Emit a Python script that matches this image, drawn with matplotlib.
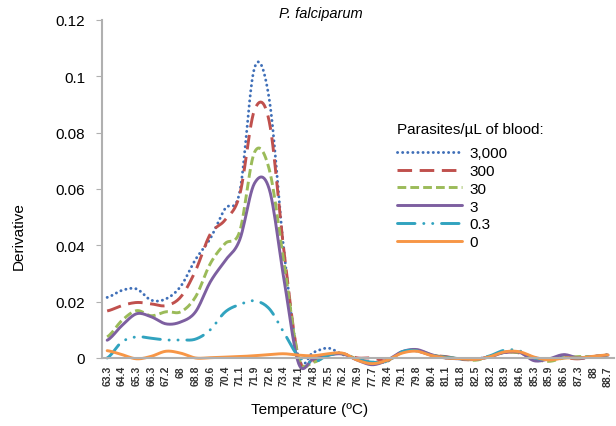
import numpy as np
import matplotlib
matplotlib.use("Agg")
import matplotlib.pyplot as plt

plt.rcParams['font.family'] = ['Liberation Sans', 'DejaVu Sans']

# melt temperature categories (deg C), one label per point
temps = ['63.3', '64.4', '65.3', '66.3', '67.2', '68', '68.8', '69.6', '70.4', '71.1',
         '71.9', '72.6', '73.4', '74.1', '74.8', '75.5', '76.2', '76.9', '77.7', '78.4',
         '79.1', '79.8', '80.4', '81.1', '81.8', '82.5', '83.2', '83.9', '84.6', '85.3',
         '85.9', '86.6', '87.3', '88', '88.7']

# derivative values, one list per parasite density
p3000 = [0.0215, 0.024, 0.0245, 0.0205, 0.021, 0.0255, 0.035, 0.0424, 0.053, 0.059,
         0.103, 0.092, 0.038, 0.0, 0.002, 0.0035, 0.0012, -0.0005, -0.0015, -0.0012,
         0.002, 0.0025, 0.001, 0.0, -0.0003, -0.0003, 0.0005, 0.002, 0.002, 0.0,
         -0.0005, 0.0005, 0.0, 0.0005, 0.0012]
p300 = [0.0167, 0.0186, 0.0197, 0.0192, 0.0186, 0.0217, 0.031, 0.044, 0.049, 0.058,
        0.088, 0.084, 0.038, 0.0, -0.001, 0.0012, 0.0015, 0.0, 0.0, -0.001,
        0.002, 0.0025, 0.001, 0.0005, -0.0005, -0.0005, 0.0005, 0.002, 0.0018, 0.0,
        -0.0005, 0.0, -0.0003, 0.0005, 0.001]
p30 = [0.0075, 0.0133, 0.0168, 0.015, 0.0164, 0.0164, 0.0217, 0.0335, 0.0406, 0.045,
       0.073, 0.067, 0.034, 0.0, -0.0015, 0.001, 0.0015, -0.0005, -0.002, -0.001,
       0.002, 0.0028, 0.0012, 0.0002, -0.0003, -0.0008, 0.0005, 0.002, 0.0018, -0.0003,
       -0.0012, 0.0, 0.0005, 0.0005, 0.001]
p3 = [0.0063, 0.0115, 0.0157, 0.0146, 0.0121, 0.0128, 0.0164, 0.027, 0.0345, 0.042,
      0.062, 0.060, 0.028, -0.002, -0.0003, 0.001, 0.0014, -0.0008, -0.0024, -0.0008,
      0.0022, 0.003, 0.0012, 0.0, -0.0003, -0.0005, 0.0005, 0.002, 0.002, -0.001,
      -0.0003, 0.0012, 0.0, 0.0005, 0.001]
p03 = [0.0, 0.0057, 0.0075, 0.007, 0.0064, 0.0064, 0.0067, 0.010, 0.0163, 0.019,
       0.0203, 0.0175, 0.009, 0.0005, -0.0015, 0.001, 0.0015, -0.0005, -0.0015, -0.0012,
       0.0022, 0.0026, 0.001, 0.0003, -0.0003, -0.0005, 0.0008, 0.0028, 0.0025, 0.0,
       -0.0005, 0.0002, 0.0, 0.0006, 0.001]
p0 = [0.0026, 0.0012, -0.0003, 0.0006, 0.0024, 0.0017, 0.0, 0.0001, 0.0003, 0.0005,
      0.0008, 0.0012, 0.0015, 0.001, 0.0008, 0.0015, 0.0017, -0.0008, -0.002, -0.0008,
      0.0017, 0.0024, 0.0009, 0.0, -0.0002, -0.0005, 0.0005, 0.0022, 0.0022, 0.0003,
      -0.0007, 0.0, 0.0, 0.0006, 0.0011]

labels = ['3,000', '300', '30', '3', '0.3', '0']
colors = ['#3f6fb8', '#c0504d', '#9bbb59', '#7d5fa0', '#31a3bf', '#f79646']
styles = [(0, (0.05, 1.7)), (0, (5, 2.6)), (0, (3, 1.4)), '-',
          (0, (6, 3, 0.05, 3, 0.05, 3)), '-']
caps = ['round', 'butt', 'butt', 'round', 'round', 'round']


def smooth(y, n=12):
    # Catmull-Rom curve through the points, like a smoothed Excel line
    y = np.asarray(y, float)
    p = np.concatenate([[y[0]], y, [y[-1]]])
    t = np.linspace(0, 1, n, endpoint=False)
    xs, ys = [], []
    for i in range(len(y) - 1):
        p0, p1, p2, p3 = p[i], p[i + 1], p[i + 2], p[i + 3]
        seg = 0.5 * ((2 * p1) + (-p0 + p2) * t + (2 * p0 - 5 * p1 + 4 * p2 - p3) * t ** 2
                     + (-p0 + 3 * p1 - 3 * p2 + p3) * t ** 3)
        xs.append(i + t)
        ys.append(seg)
    xs.append([len(y) - 1])
    ys.append([y[-1]])
    return np.concatenate(xs), np.concatenate(ys)


fig = plt.figure(figsize=(6.16, 4.27), dpi=100)
ax = fig.add_axes([0.1656, 0.1593, 0.831, 0.7916])

for ser, lab, c, ls, cap in zip([p3000, p300, p30, p3, p03, p0], labels, colors, styles, caps):
    xs, ys = smooth(ser)
    ax.plot(xs, ys, color=c, lw=2.1, linestyle=ls, dash_capstyle=cap,
            solid_capstyle='round', label=lab, clip_on=False)

ax.set_xlim(-0.35, len(temps) - 0.6)
ax.set_ylim(0, 0.12)
ax.set_yticks([0, 0.02, 0.04, 0.06, 0.08, 0.1, 0.12])
ax.set_yticklabels(['0', '0.02', '0.04', '0.06', '0.08', '0.1', '0.12'], fontsize=11)
ax.set_xticks(range(len(temps)))
ax.set_xticklabels(temps, rotation=90, fontsize=7.5, fontweight='bold', color='#333333')
ax.tick_params(axis='x', length=0, pad=5)
ax.tick_params(axis='y', length=4, color='#b0b0b0', pad=8)

for s in ['top', 'right']:
    ax.spines[s].set_visible(False)
ax.spines['left'].set_color('#b0b0b0')
ax.spines['bottom'].set_color('#b0b0b0')
ax.spines['left'].set_linewidth(1.5)
ax.spines['bottom'].set_linewidth(1.5)

fig.text(0.03, 0.447, 'Derivative', rotation=90, fontsize=11, ha='center', va='center')
fig.text(0.503, 0.04, 'Temperature (ºC)', fontsize=11, ha='center', va='center')
fig.text(0.52, 0.968, 'P. falciparum', fontsize=10.5, style='italic', ha='center', va='center')

leg = ax.legend(title='Parasites/µL of blood:', loc='upper left',
                bbox_to_anchor=(0.565, 0.715), frameon=False, fontsize=11,
                title_fontsize=11, handlelength=4.2, handletextpad=0.5,
                labelspacing=0.25, borderaxespad=0)
leg._legend_box.align = 'left'
leg._legend_box.sep = 7

fig.savefig('out.png', dpi=100)
